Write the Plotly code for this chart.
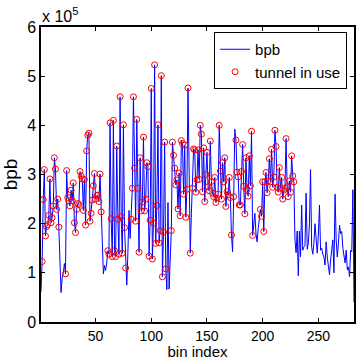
import plotly.graph_objects as go

# bpb values in units of 1e5, bin index 1..282
bpb_e5 = [
    0.62, 1.23, 2.49, 3.10, 1.75, 1.94, 1.98, 2.17, 2.91, 2.02,
    2.12, 2.36, 3.34, 3.11, 2.29, 2.50, 1.93, 1.30, 0.60, 0.89,
    1.00, 1.19, 0.98, 3.08, 2.53, 2.47, 2.36, 2.68, 2.47, 2.83,
    2.02, 1.82, 2.29, 2.41, 2.39, 3.06, 2.97, 2.91, 2.27, 2.90,
    1.97, 3.48, 3.80, 3.84, 2.05, 2.21, 2.48, 2.77, 3.02, 2.50,
    2.57, 2.58, 2.45, 3.01, 2.24, 1.50, 0.98, 1.15, 1.05, 1.20,
    1.45, 1.38, 4.05, 2.10, 1.33, 4.10, 1.45, 1.33, 3.58, 2.09,
    1.38, 4.58, 2.14, 1.40, 4.01, 1.92, 1.10, 0.75, 1.40, 2.27,
    1.70, 2.09, 2.72, 4.58, 3.13, 2.05, 4.12, 2.72, 1.42, 3.34,
    2.26, 2.44, 3.76, 2.26, 2.50, 3.24, 3.16, 1.34, 2.07, 4.75,
    1.28, 2.01, 5.23, 1.60, 2.37, 4.01, 1.61, 1.86, 5.01, 0.92,
    1.83, 3.66, 1.08, 0.66, 2.43, 0.67, 1.20, 1.86, 3.66, 3.39,
    3.13, 2.79, 2.89, 2.30, 3.03, 2.16, 3.69, 3.63, 2.60, 3.60,
    2.13, 2.70, 4.76, 2.50, 1.40, 2.20, 2.72, 3.52, 3.50, 2.64,
    2.89, 3.50, 2.90, 4.00, 3.82, 2.65, 3.54, 2.45, 3.00, 3.45,
    2.75, 2.67, 3.68, 2.86, 2.62, 2.55, 2.94, 2.43, 2.52, 2.60,
    4.00, 3.07, 2.50, 3.24, 2.85, 3.34, 2.35, 2.65, 2.59, 2.94,
    2.53, 1.77, 1.43, 2.55, 3.92, 3.70, 3.05, 2.95, 2.38, 2.38,
    3.06, 3.61, 2.76, 2.20, 3.34, 2.70, 2.56, 3.38, 2.77, 3.88,
    1.76, 2.00, 2.21, 1.80, 1.63, 1.90, 2.10, 2.29, 2.15, 2.85,
    1.84, 2.85, 3.04, 2.63, 2.87, 3.32, 2.85, 3.51, 2.74, 2.95,
    3.90, 3.57, 2.74, 2.64, 3.14, 2.72, 2.94, 2.50, 2.68, 2.72,
    3.73, 2.75, 2.55, 2.87, 2.64, 3.38, 2.97, 2.85, 1.67, 1.41,
    1.85, 0.94, 1.85, 1.33, 2.38, 1.46, 1.53, 1.55, 2.62, 1.48,
    1.60, 2.00, 3.10, 1.52, 1.38, 1.60, 2.00, 1.55, 1.40, 1.77,
    2.38, 1.46, 1.50, 1.38, 1.32, 1.16, 1.63, 1.32, 1.10, 0.96,
    1.26, 1.50, 1.67, 1.00, 2.60, 1.67, 1.32, 1.60, 1.97, 1.80,
    1.84, 1.50, 1.33, 1.20, 1.46, 1.06, 1.12, 0.92, 1.46, 1.43,
    2.69, 0.40,
]
bin_index = list(range(1, len(bpb_e5) + 1))

# bins where the tunnel is in use (marked with red circles)
no_tunnel = {1, 18, 19, 20, 21, 22, 56, 57, 58, 59, 60, 78, 79, 80, 81,
             114, 115, 116, 117, 134, 136, 173, 175, 192, 193, 194, 195,
             196, 197}
tunnel_idx = [i for i in bin_index if i <= 228 and i not in no_tunnel]

y_ticks = [0, 1, 2, 3, 4, 5, 6]
x_ticks = [50, 100, 150, 200, 250]

bpb = [v * 1e5 for v in bpb_e5]
tunnel_y = [bpb[i - 1] for i in tunnel_idx]

FONT = "Liberation Sans, Arial, Helvetica, sans-serif"

fig = go.Figure()
fig.add_trace(go.Scatter(
    x=bin_index, y=bpb, mode="lines", name="bpb",
    line=dict(color="#0000ff", width=1),
))
fig.add_trace(go.Scatter(
    x=tunnel_idx, y=tunnel_y, mode="markers", name="tunnel in use",
    marker=dict(symbol="circle-open", color="#ff0000", size=6,
                line=dict(width=1, color="#ff0000")),
))

fig.update_layout(
    width=357, height=360,
    margin=dict(l=41, r=1, t=27, b=38),
    paper_bgcolor="white", plot_bgcolor="white",
    font=dict(family=FONT, size=16, color="black"),
    showlegend=True,
    legend=dict(x=0.978, y=0.983, xanchor="right", yanchor="top",
                bgcolor="white", bordercolor="black", borderwidth=1,
                font=dict(size=15), itemwidth=30,
                tracegroupgap=0),
    annotations=[dict(text="x 10<sup>5</sup>", xref="paper", yref="paper",
                      x=-0.003, y=1.0, xanchor="left", yanchor="bottom",
                      showarrow=False, font=dict(size=16))],
)
fig.update_xaxes(
    range=[1, 282], tickvals=x_ticks, ticks="inside", ticklen=4,
    showline=True, mirror="ticks", linecolor="black", linewidth=1.5,
    tickcolor="black", showgrid=False, zeroline=False,
    tickfont=dict(size=14),
    title=dict(text="bin index", standoff=1, font=dict(size=15)),
)
fig.update_yaxes(
    range=[0, 6e5], tickvals=[t * 1e5 for t in y_ticks],
    ticktext=[str(t) for t in y_ticks], ticks="inside", ticklen=4,
    showline=True, mirror="ticks", linecolor="black", linewidth=1.5,
    tickcolor="black", showgrid=False, zeroline=False,
    title=dict(text="bpb", standoff=4),
)

fig.write_html("out.html",
               config={"displayModeBar": False},
               post_script="document.body.style.margin='0';"
                           "document.body.style.overflow='hidden';")
